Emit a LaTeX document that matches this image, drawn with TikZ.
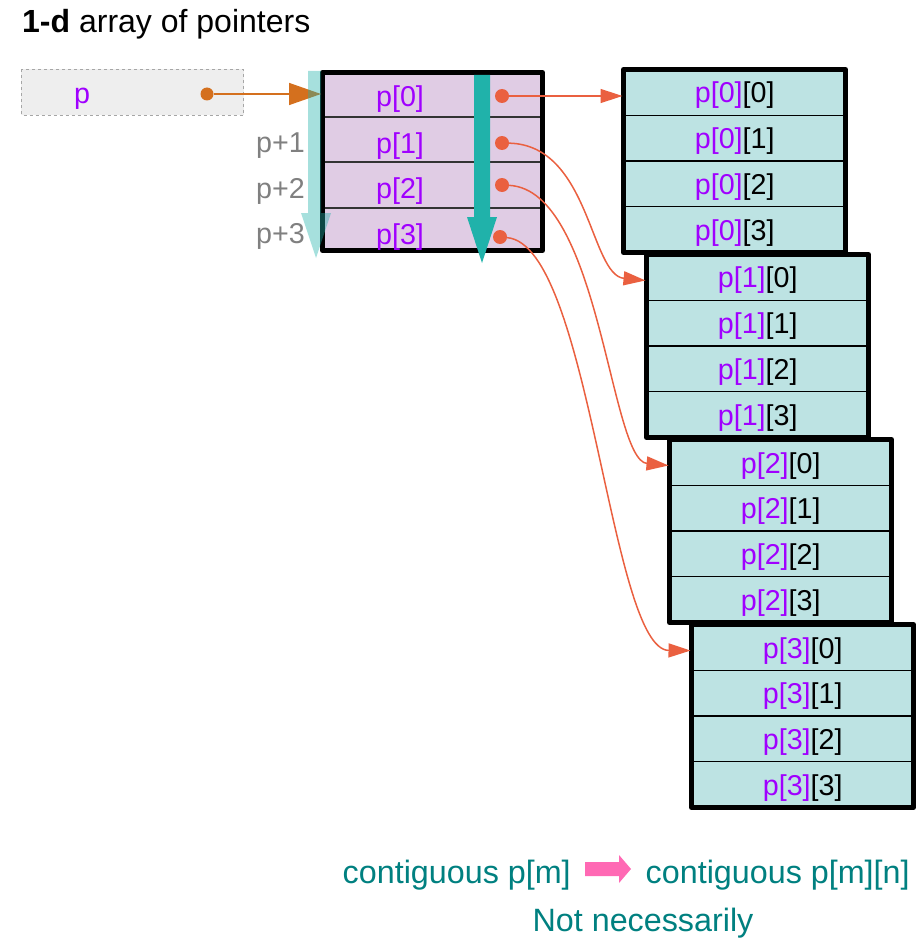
\documentclass[tikz,border=0pt]{standalone}
\usepackage{fontspec}
\setmainfont{Liberation Sans}
\usetikzlibrary{arrows.meta}
\definecolor{pur}{RGB}{160,0,255}
\definecolor{conn}{RGB}{234,96,64}
\definecolor{choc}{RGB}{212,112,30}
\definecolor{lav}{RGB}{224,204,228}
\definecolor{cellbg}{RGB}{189,227,227}
\definecolor{seag}{RGB}{32,178,170}
\definecolor{grtxt}{RGB}{128,128,128}
\definecolor{tealtxt}{RGB}{0,128,128}
\definecolor{pinkarr}{RGB}{255,105,180}
\definecolor{pboxbg}{RGB}{238,238,238}
\definecolor{sepdark}{RGB}{51,51,51}
\tikzset{
  cell/.style={inner sep=0pt, minimum width=222pt, minimum height=45.75pt,
    font=\fontsize{28.7}{30}\selectfont},
  lbl/.style={inner sep=0pt, font=\fontsize{28.7}{30}\selectfont},
  dotnode/.style={circle, fill=conn, inner sep=0pt, minimum size=14pt},
  connarrow/.style={draw=conn, line width=1.5pt, -{Triangle[length=22pt,width=14pt]}, shorten >=1pt},
  thickborder/.style={draw=black, line width=5pt, line join=round},
  bottomtxt/.style={inner sep=0pt, text=tealtxt, font=\fontsize{32.3}{34}\selectfont}
}
\begin{document}
\begin{tikzpicture}[x=1pt,y=-1pt]
\useasboundingbox (0,0) rectangle (921,939);

% title
\node[inner sep=0pt, anchor=base west, font=\fontsize{32}{34}\selectfont] (title) at (22,32.5) {\textbf{1-d} array of pointers};

% p box
\draw[draw=gray!70, dashed, fill=pboxbg, line width=0.8pt] (21,69.5) rectangle (243.5,115);
\node[lbl, anchor=base, text=pur] (plbl) at (82,103.5) {p};
\node[circle, fill=choc, inner sep=0pt, minimum size=13pt] (pd) at (207,94) {};

% right arrays
\foreach \i/\x/\y in {0/623.5/69.5,1/646.5/254.5,2/669.5/439.5,3/691.5/624.5} {
  \fill[cellbg] (\x,\y) rectangle ++(222,183);
  \foreach \j in {0,...,3} {
    \node[cell, anchor=north west] (a\i\j) at (\x,{\y+45.75*\j+3}) {\textcolor{pur}{p[\i]}[\j]};
  }
  \foreach \j in {1,2,3} {
    \draw[line width=1.2pt, black] (\x,{\y+45.75*\j}) -- ++(222,0);
  }
  \draw[thickborder] (\x,\y) rectangle ++(222,183);
}

% main array
\fill[lav] (322.5,72.5) rectangle (542.5,250.5);
\foreach \yy in {117,162,208} {
  \draw[sepdark, line width=2.5pt] (322.5,\yy) -- (542.5,\yy);
}
\draw[thickborder] (322.5,72.5) rectangle (542.5,250.5);
\node[lbl, text=pur] (l0) at (400,99.5) {p[0]};
\node[lbl, text=pur] (l1) at (400,146.5) {p[1]};
\node[lbl, text=pur] (l2) at (400,191.5) {p[2]};
\node[lbl, text=pur] (l3) at (400,237.5) {p[3]};

% dark teal arrow
\fill[seag] (474,75) -- (490,75) -- (490,217) -- (497,217) -- (482,263) -- (467,217) -- (474,217) -- cycle;

% orange arrow from p
\coordinate (pin) at (321,94);
\draw[choc, line width=1.5pt, -{Triangle[length=32pt,width=22pt]}] (pd) -- (pin);

% light teal arrow
\fill[seag, opacity=0.4] (308,71) -- (321,71) -- (321,213) -- (331,213) -- (316,258) -- (301,213) -- (308,213) -- cycle;

% offsets
\node[lbl, anchor=base west, text=grtxt] (o1) at (256,152) {p+1};
\node[lbl, anchor=base west, text=grtxt] (o2) at (256,198) {p+2};
\node[lbl, anchor=base west, text=grtxt] (o3) at (256,243) {p+3};

% dots
\node[dotnode] (d0) at (502,96) {};
\node[dotnode] (d1) at (502,143) {};
\node[dotnode] (d2) at (502,185) {};
\node[dotnode] (d3) at (500,237) {};

% connectors
\draw[connarrow] (d0) -- (d0 -| a00.west);
\draw[connarrow] (d1) .. controls (590,145) and (590,275) .. (a10.west);
\draw[connarrow] (d2) .. controls (600,190) and (610,460) .. (a20.west);
\draw[connarrow] (d3) .. controls (590,245) and (610,650) .. (a30.west);

% bottom text
\node[bottomtxt, anchor=base west] (c1) at (342.5,883) {contiguous p[m]};
\fill[pinkarr] (585,862) -- (619,862) -- (619,855) -- (631,869) -- (619,883) -- (619,876) -- (585,876) -- cycle;
\node[bottomtxt, anchor=base west] (c2) at (645.5,883) {contiguous p[m][n]};
\node[bottomtxt, anchor=base] (nn) at (643,931) {Not necessarily};
\end{tikzpicture}
\end{document}
